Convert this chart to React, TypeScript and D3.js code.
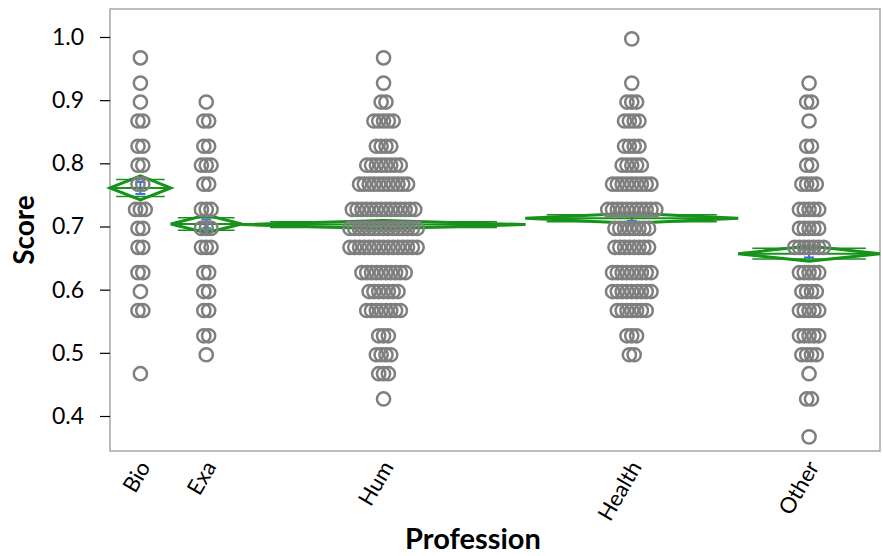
import React, { useRef, useEffect } from 'react';
import * as d3 from 'd3';

// score levels (rows of points), top to bottom
const levels = [0.997, 0.967, 0.927, 0.897, 0.867, 0.827, 0.797, 0.767, 0.727, 0.697, 0.667, 0.627, 0.597, 0.567, 0.527, 0.497, 0.467, 0.427, 0.367];

const professions = ['Bio', 'Exa', 'Hum', 'Health', 'Other'];

// number of respondents at each level, per profession
const bioCounts = [0, 1, 1, 1, 2, 2, 2, 2, 3, 2, 2, 2, 1, 2, 0, 0, 1, 0, 0];
const exaCounts = [0, 0, 0, 1, 2, 2, 3, 2, 3, 3, 3, 2, 2, 2, 2, 1, 0, 0, 0];
const humCounts = [0, 1, 1, 2, 5, 4, 8, 11, 14, 15, 15, 10, 7, 8, 3, 4, 3, 1, 0];
const healthCounts = [1, 0, 1, 3, 4, 4, 5, 9, 11, 8, 8, 9, 9, 7, 3, 2, 0, 0, 0];
const otherCounts = [0, 0, 1, 2, 1, 2, 2, 4, 5, 5, 7, 5, 4, 5, 5, 4, 1, 2, 1];

const groupMeans = [0.761, 0.704, 0.703, 0.713, 0.657];
const groupCI = [0.019, 0.014, 0.0065, 0.008, 0.012];

const yTicks = [0.4, 0.5, 0.6, 0.7, 0.8, 0.9, 1.0];

const W = 883;
const H = 556;

const App = () => {
  const svgRef = useRef<SVGSVGElement>(null);

  useEffect(() => {
    const svg = d3.select(svgRef.current);
    svg.selectAll('*').remove();

    const left = 110, right = 880, top = 9, bottom = 451;
    const font = 'Lato, "Open Sans", sans-serif';

    const allCounts = [bioCounts, exaCounts, humCounts, healthCounts, otherCounts];
    const sizes = allCounts.map(c => d3.sum(c));
    const starts = sizes.map((_, i) => d3.sum(sizes.slice(0, i)));
    const total = d3.sum(sizes);

    // x widths proportional to group size
    const x = d3.scaleLinear().domain([0, total]).range([left, right]);
    const y = d3.scaleLinear().domain([0.3446, 1.0443]).range([bottom, top]);

    const groups = professions.map((name, i) => ({
      name,
      x0: x(starts[i]),
      x1: x(starts[i] + sizes[i]),
      cx: x(starts[i] + sizes[i] / 2),
      mean: groupMeans[i],
      ci: groupCI[i],
      counts: allCounts[i]
    }));

    // frame
    svg.append('rect')
      .attr('x', left)
      .attr('y', top)
      .attr('width', right - left)
      .attr('height', bottom - top)
      .attr('fill', 'none')
      .attr('stroke', '#a6a6a6')
      .attr('stroke-width', 1.5);

    // y axis
    const yAxis = svg.append('g')
      .attr('transform', `translate(${left},0)`)
      .call(d3.axisLeft(y).tickValues(yTicks).tickFormat(d3.format('.1f')).tickSize(10).tickPadding(16));
    yAxis.select('.domain').remove();
    yAxis.selectAll('line').attr('stroke', '#000').attr('stroke-width', 1.2);
    yAxis.selectAll('text')
      .style('font-family', font)
      .style('font-size', '23px')
      .attr('fill', '#000');

    const plot = svg.append('g');

    // std error bars (blue)
    groups.forEach(g => {
      const se = g.ci / 2;
      plot.append('line')
        .attr('x1', g.cx).attr('x2', g.cx)
        .attr('y1', y(g.mean + se)).attr('y2', y(g.mean - se))
        .attr('stroke', '#3b6fe6').attr('stroke-width', 2);
      [g.mean + se, g.mean - se].forEach(v => {
        plot.append('line')
          .attr('x1', g.cx - 5).attr('x2', g.cx + 5)
          .attr('y1', y(v)).attr('y2', y(v))
          .attr('stroke', '#3b6fe6').attr('stroke-width', 2);
      });
    });

    // means diamonds
    groups.forEach(g => {
      const ym = y(g.mean);
      const yt = y(g.mean + g.ci);
      const yb = y(g.mean - g.ci);
      const pts: [number, number][] = [[g.x0, ym], [g.cx, yt], [g.x1, ym], [g.cx, yb]];
      plot.append('path')
        .attr('d', d3.line()(pts) + 'Z')
        .attr('fill', 'none')
        .attr('stroke', '#17921a')
        .attr('stroke-width', 3)
        .attr('stroke-linejoin', 'miter');
      plot.append('line')
        .attr('x1', g.x0).attr('x2', g.x1)
        .attr('y1', ym).attr('y2', ym)
        .attr('stroke', '#17921a').attr('stroke-width', 2);
      const off = g.ci * Math.SQRT2 / 2;
      const w = g.x1 - g.x0;
      [g.mean + off, g.mean - off].forEach(v => {
        plot.append('line')
          .attr('x1', g.x0 + w * 0.1).attr('x2', g.x1 - w * 0.1)
          .attr('y1', y(v)).attr('y2', y(v))
          .attr('stroke', '#17921a').attr('stroke-width', 1.5);
      });
    });

    // points
    const spacing = 4.8;
    const points: { px: number; v: number }[] = [];
    groups.forEach(g => {
      g.counts.forEach((k, li) => {
        for (let j = 0; j < k; j++) {
          points.push({ px: g.cx + (j - (k - 1) / 2) * spacing, v: levels[li] });
        }
      });
    });

    plot.selectAll('.pt')
      .data(points)
      .enter()
      .append('circle')
      .attr('class', 'pt')
      .attr('cx', d => d.px)
      .attr('cy', d => y(d.v))
      .attr('r', 6.6)
      .attr('fill', 'none')
      .attr('stroke', '#7f7f7f')
      .attr('stroke-width', 2.5);

    // category labels
    groups.forEach(g => {
      svg.append('text')
        .attr('transform', `translate(${g.cx + 4},${bottom + 12}) rotate(-60)`)
        .attr('text-anchor', 'end')
        .attr('dy', '0.35em')
        .style('font-family', font)
        .style('font-size', '22px')
        .attr('fill', '#000')
        .text(g.name);
    });

    // axis titles
    svg.append('text')
      .attr('transform', `translate(34,${(top + bottom) / 2}) rotate(-90)`)
      .attr('text-anchor', 'middle')
      .style('font-family', font)
      .style('font-size', '28px')
      .style('font-weight', 'bold')
      .attr('fill', '#000')
      .text('Score');

    svg.append('text')
      .attr('x', 473)
      .attr('y', 549)
      .attr('text-anchor', 'middle')
      .style('font-family', font)
      .style('font-size', '29px')
      .style('font-weight', 'bold')
      .attr('fill', '#000')
      .text('Profession');
  }, []);

  return (
    <svg
      ref={svgRef}
      width={W}
      height={H}
      style={{ position: 'absolute', left: 0, top: 0, background: '#fff' }}
    />
  );
};

export default App;
